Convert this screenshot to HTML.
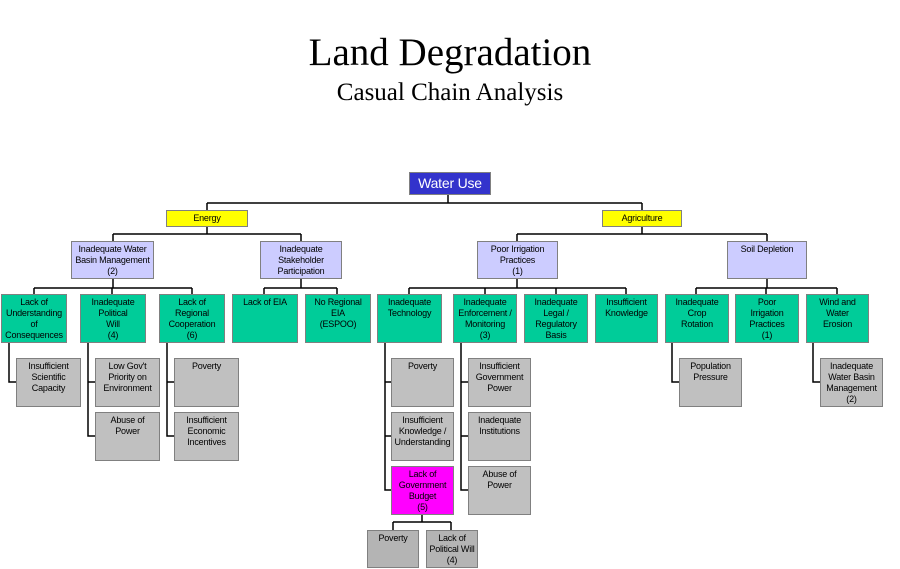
<!DOCTYPE html>
<html><head><meta charset="utf-8"><style>
body{margin:0;width:900px;height:569px;background:#fff;position:relative;overflow:hidden;font-family:"Liberation Sans",Arial,sans-serif}
.b{position:absolute;box-sizing:border-box;border:1px solid #808080;text-align:center;font-size:9px;line-height:11px;padding-top:2px;color:#000;letter-spacing:-0.2px;white-space:nowrap}
.g{background:#00CC99}.l{background:#CCCCFF}.y{background:#FFFF00}.s{background:#C0C0C0}.d{background:#B4B4B4}.m{background:#FF00FF}
.t{position:absolute;left:0;width:900px;text-align:center;font-family:"Liberation Serif",serif;color:#000}
svg{position:absolute;left:0;top:0}
</style></head><body>
<div class="t" style="top:31px;font-size:39px;line-height:44px">Land Degradation</div>
<div class="t" style="top:79px;font-size:25px;line-height:28px">Casual Chain Analysis</div>
<svg width="900" height="569" fill="none" stroke="#000" stroke-width="1.5">
<path d="M448 195V203M207 203H642M207 203V210M642 203V210"/>
<path d="M207 227V234M113 234H301M113 234V241M301 234V241"/>
<path d="M642 227V234M517 234H767M517 234V241M767 234V241"/>
<path d="M113 279V288M34 288H192M34 288V294M112 288V294M192 288V294"/>
<path d="M301 279V288M264 288H337M264 288V294M337 288V294"/>
<path d="M517 279V288M409 288H626M409 288V294M485 288V294M556 288V294M626 288V294"/>
<path d="M767 279V288M696 288H837M696 288V294M766 288V294M837 288V294"/>
<path d="M9 343V382H16"/>
<path d="M88 343V436H95M88 382H95"/>
<path d="M167 343V436H174M167 382H174"/>
<path d="M385 343V490H391M385 382H391M385 436H391"/>
<path d="M461 343V490H468M461 382H468M461 436H468"/>
<path d="M672 343V382H679"/>
<path d="M813 343V382H820"/>
<path d="M422 515V522M393 522H451M393 522V530M451 522V530"/>
</svg>
<div class="b" style="left:409px;top:172px;width:82px;height:23px;background:#3333CC;color:#fff;font-size:14px;line-height:17px;padding-top:2px">Water Use</div>
<div class="b y" style="left:166px;top:210px;width:82px;height:17px">Energy</div>
<div class="b y" style="left:602px;top:210px;width:80px;height:17px">Agriculture</div>
<div class="b l" style="left:71px;top:241px;width:83px;height:38px">Inadequate Water<br>Basin Management<br>(2)</div>
<div class="b l" style="left:260px;top:241px;width:82px;height:38px">Inadequate<br>Stakeholder<br>Participation</div>
<div class="b l" style="left:477px;top:241px;width:81px;height:38px">Poor Irrigation<br>Practices<br>(1)</div>
<div class="b l" style="left:727px;top:241px;width:80px;height:38px">Soil Depletion</div>
<div class="b g" style="left:1px;top:294px;width:66px;height:49px">Lack of<br>Understanding<br>of<br>Consequences</div>
<div class="b g" style="left:80px;top:294px;width:66px;height:49px">Inadequate<br>Political<br>Will<br>(4)</div>
<div class="b g" style="left:159px;top:294px;width:66px;height:49px">Lack of<br>Regional<br>Cooperation<br>(6)</div>
<div class="b g" style="left:232px;top:294px;width:66px;height:49px">Lack of EIA</div>
<div class="b g" style="left:305px;top:294px;width:66px;height:49px">No Regional<br>EIA<br>(ESPOO)</div>
<div class="b g" style="left:377px;top:294px;width:65px;height:49px">Inadequate<br>Technology</div>
<div class="b g" style="left:453px;top:294px;width:64px;height:49px">Inadequate<br>Enforcement /<br>Monitoring<br>(3)</div>
<div class="b g" style="left:524px;top:294px;width:64px;height:49px">Inadequate<br>Legal /<br>Regulatory<br>Basis</div>
<div class="b g" style="left:595px;top:294px;width:63px;height:49px">Insufficient<br>Knowledge</div>
<div class="b g" style="left:665px;top:294px;width:64px;height:49px">Inadequate<br>Crop<br>Rotation</div>
<div class="b g" style="left:735px;top:294px;width:64px;height:49px">Poor<br>Irrigation<br>Practices<br>(1)</div>
<div class="b g" style="left:806px;top:294px;width:63px;height:49px">Wind and<br>Water<br>Erosion</div>
<div class="b s" style="left:16px;top:358px;width:65px;height:49px">Insufficient<br>Scientific<br>Capacity</div>
<div class="b s" style="left:95px;top:358px;width:65px;height:49px">Low Gov't<br>Priority on<br>Environment</div>
<div class="b s" style="left:95px;top:412px;width:65px;height:49px">Abuse of<br>Power</div>
<div class="b s" style="left:174px;top:358px;width:65px;height:49px">Poverty</div>
<div class="b s" style="left:174px;top:412px;width:65px;height:49px">Insufficient<br>Economic<br>Incentives</div>
<div class="b s" style="left:391px;top:358px;width:63px;height:49px">Poverty</div>
<div class="b s" style="left:391px;top:412px;width:63px;height:49px">Insufficient<br>Knowledge /<br>Understanding</div>
<div class="b m" style="left:391px;top:466px;width:63px;height:49px">Lack of<br>Government<br>Budget<br>(5)</div>
<div class="b s" style="left:468px;top:358px;width:63px;height:49px">Insufficient<br>Government<br>Power</div>
<div class="b s" style="left:468px;top:412px;width:63px;height:49px">Inadequate<br>Institutions</div>
<div class="b s" style="left:468px;top:466px;width:63px;height:49px">Abuse of<br>Power</div>
<div class="b s" style="left:679px;top:358px;width:63px;height:49px">Population<br>Pressure</div>
<div class="b s" style="left:820px;top:358px;width:63px;height:49px">Inadequate<br>Water Basin<br>Management<br>(2)</div>
<div class="b d" style="left:367px;top:530px;width:52px;height:38px">Poverty</div>
<div class="b d" style="left:426px;top:530px;width:52px;height:38px">Lack of<br>Political Will<br>(4)</div>
</body></html>
